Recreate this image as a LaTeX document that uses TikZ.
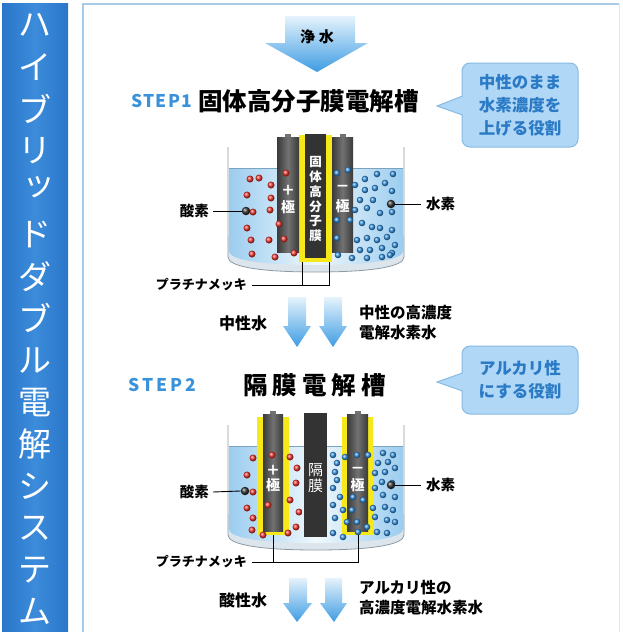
\documentclass[tikz,border=0pt]{standalone}
\usepackage{fontspec}
\newfontfamily\jp{Noto Sans CJK JP}
\usetikzlibrary{calc}

\definecolor{bandblue}{HTML}{2A76C9}
\definecolor{bandlight}{HTML}{3C8CDB}
\definecolor{frame}{HTML}{A8CCE8}
\definecolor{frameright}{HTML}{DDE7EE}
\definecolor{stepblue}{HTML}{3A93DA}
\definecolor{bubblefill}{HTML}{B0D7F5}
\definecolor{bubbleline}{HTML}{86BAE2}
\definecolor{bubbletext}{HTML}{2A7AC6}
\definecolor{flow}{HTML}{3E9CE3}
\definecolor{flowtop}{HTML}{E6F3FC}
\definecolor{water}{HTML}{9BCDEF}
\definecolor{glass}{HTML}{DCE5EC}
\definecolor{glassline}{HTML}{8E9AA3}
\definecolor{plate}{HTML}{F7E81A}
\definecolor{rod}{HTML}{3A3A3A}
\definecolor{rodlight}{HTML}{727272}
\definecolor{film}{HTML}{333333}
\definecolor{oxy}{HTML}{F0342C}
\definecolor{hyd}{HTML}{3290E0}

\tikzset{
  txt/.style={inner sep=0pt, text=black, font=\jp\bfseries\fontsize{#1}{#1}\selectfont},
  bandch/.style={inner sep=0pt, text=white, font=\jp\fontsize{33}{33}\selectfont},
  bubble/.style={draw=bubbleline, fill=bubblefill, line width=1pt, rounded corners=8pt,
    inner sep=0pt, align=center, text=bubbletext,
    font=\jp\bfseries\fontsize{16.5}{23}\selectfont},
  rodtext/.style={inner sep=0pt, text=white, font=\jp\bfseries\fontsize{#1}{#1}\selectfont},
  leader/.style={draw=black, line width=0.9pt},
  marker/.style={circle, inner sep=0pt, minimum size=8.5pt, ball color=black!80},
  flowarrow/.style={top color=flowtop, bottom color=flow},
}

% electrode rod with its terminal nub
\newcommand\rodbody[4]{% x1, y1, x2, y2
  \shade[left color=rod, right color=rod, middle color=rodlight] (#1,#2) rectangle (#3,#4);
  \fill[rodlight] ({(#1+#3)/2-3},#2) rectangle ({(#1+#3)/2+3},{#2-3});
}

% glass tank with water (drawn at the origin of the current scope)
\newcommand\tankbody{%
  \fill[glass] (228,236) -- (228,257) .. controls (228,267) and (262,272) .. (316,272)
     .. controls (370,272) and (404,267) .. (404,257) -- (404,236) -- cycle;
  \shade[left color=water, right color=water, middle color=water!15]
     (229,168) -- (229,251) .. controls (229,260) and (262,265) .. (316,265)
     .. controls (370,265) and (403,260) .. (403,251) -- (403,168) -- cycle;
  \draw[water!80!black, line width=0.4pt] (229,168) -- (403,168);
  \draw[glassline, line width=0.8pt] (228,147) -- (228,257) .. controls (228,267) and (262,272) .. (316,272)
     .. controls (370,272) and (404,267) .. (404,257) -- (404,147);
}

\begin{document}
\begin{tikzpicture}[x=1pt, y=-1pt]
\useasboundingbox (0,0) rectangle (622,632);
\fill[white] (0,0) rectangle (622,632);

% title band
\shade[left color=bandblue, right color=bandblue, middle color=bandlight] (2,3) rectangle (68,632);
\foreach \c/\dx/\dy [count=\i from 0] in {ハ/0/0,イ/0/0,ブ/0/0,リ/0/0,ッ/4/-5,ド/0/0,ダ/0/0,ブ/0/0,ル/0/0,電/0/0,解/0/0,シ/0/0,ス/0/0,テ/0/0,ム/0/0}
  \node[bandch] (band\i) at ({35+\dx},{25+41.9*\i+\dy}) {\c};

% panel frame
\draw[frameright, line width=1pt] (619,4) -- (619,632);
\draw[frame, line width=1.6pt] (83,632) -- (83,4) -- (619,4);

% purified water inflow
\shade[flowarrow] (285,16) -- (355,16) -- (355,43) -- (368,43) -- (317,72) -- (265,43) -- (285,43) -- cycle;
\node[txt=15] (inflow) at (317,37) {浄\hspace{4pt}水};

% ---------- STEP 1 ----------
\node[inner sep=0pt, text=stepblue, font=\jp\bfseries\fontsize{17.5}{17.5}\selectfont, anchor=west] (step1) at (131,101) {S\hspace{1.2pt}T\hspace{1.2pt}E\hspace{1.2pt}P\hspace{1.2pt}1};
\node[txt=24.5, anchor=west] (title1) at (198,101) {固体高分子膜電解槽};

\node[bubble, minimum width=116pt, minimum height=84pt] (role1) at (520,105) {中性のまま\\水素濃度を\\上げる役割};
\fill[bubblefill] (463.5,96) -- (437,106) -- (463.5,115) -- cycle;
\draw[bubbleline, line width=1pt] (462.5,96) -- (437,106) -- (462.5,115);

\begin{scope}
  \tankbody
  % platinum plated membrane between the electrodes
  \fill[plate] (299,135) rectangle (332,262);
  \fill[film] (305,134) rectangle (326,258);
  \rodbody{277}{137}{299}{252}
  \rodbody{332}{137}{353}{252}
  \node[rodtext=14] (p1a) at (288,190) {＋};
  \node[rodtext=14] (p1b) at (288,207) {極};
  \node[rodtext=14] (n1a) at (342.5,188) {－};
  \node[rodtext=14] (n1b) at (342.5,206) {極};
  \foreach \ch [count=\k from 0] in {固,体,高,分,子,膜}
    \node[rodtext=12.5] (m1\k) at (315.5,{162+14.8*\k}) {\ch};
  % oxygen bubbles
  \foreach \p in {(250,179),(259,178),(271,185),(286,173),(247,195),(271,198),(253,212),(270,210),
                  (247,228),(279,224),(251,240),(269,240),(284,239),(252,254),(275,257),(294,253)}
    \shade[ball color=oxy] \p circle (3.5pt);
  % hydrogen bubbles
  \foreach \p in {(337,173),(348,170),(355,185),(365,179),(377,174),(393,174),(365,190),(375,188),
                  (385,183),(392,191),(360,200),(373,200),(355,210),(367,208),(380,213),(392,212),
                  (350,220),(362,223),(372,227),(380,228),(392,230),(337,220),(337,238),(357,240),
                  (367,238),(377,240),(387,237),(395,245),(360,250),(370,250),(382,248),(392,253),
                  (338,255),(352,258),(367,258),(382,257),(390,255)}
    \shade[ball color=hyd] \p circle (3.3pt);
\end{scope}

\node[marker] (o1) at (246,211) {};
\node[marker] (h1) at (391,204) {};
\node[txt=14.5, anchor=east] (ox1) at (209,211) {酸素};
\node[txt=14.5, anchor=west] (hy1) at (426,204) {水素};
\draw[leader] (ox1.east) ++(4pt,0) -- (o1.west);
\draw[leader] (h1.east) -- ($(hy1.west)+(-5pt,0)$);

\coordinate (pa1) at (302,262);
\coordinate (pb1) at (329,262);
\node[txt=13, anchor=east] (pt1) at (247,285) {プラチナメッキ};
\draw[leader] ($(pt1.east)+(5pt,0)$) -- (pb1 |- pt1.east) -- (pb1);
\draw[leader] (pa1) -- (pa1 |- pt1.east);

% outflow of step 1
\shade[flowarrow] (288,297) -- (306,297) -- (306,326) -- (311,326) -- (297,347) -- (283,326) -- (288,326) -- cycle;
\shade[flowarrow] (324,297) -- (342,297) -- (342,326) -- (347,326) -- (333,347) -- (319,326) -- (324,326) -- cycle;
\node[txt=16] (out1a) at (243,323) {中性水};
\node[txt=15.5, anchor=west] (out1b) at (359,313) {中性の高濃度};
\node[txt=15.5, anchor=west] (out1c) at (359,333) {電解水素水};

% ---------- STEP 2 ----------
\node[inner sep=0pt, text=stepblue, font=\jp\bfseries\fontsize{17.5}{17.5}\selectfont, anchor=west] (step2) at (128,385) {S\hspace{3pt}T\hspace{3pt}E\hspace{3pt}P\hspace{3pt}2};
\node[txt=24.5, anchor=west] (title2) at (243,385) {隔\hspace{5pt}膜\hspace{5pt}電\hspace{5pt}解\hspace{5pt}槽};

\node[bubble, minimum width=116pt, minimum height=68pt] (role2) at (520,380) {アルカリ性\\にする役割};
\fill[bubblefill] (463.5,373) -- (437,382) -- (463.5,391) -- cycle;
\draw[bubbleline, line width=1pt] (462.5,373) -- (437,382) -- (462.5,391);

\begin{scope}[shift={(0,278)}]
  \tankbody
\end{scope}
% separator membrane and plated electrodes
\fill[film] (304,413) rectangle (327,537);
\fill[plate] (257,417) rectangle (289,535);
\fill[plate] (342,417) rectangle (373,535);
\rodbody{263}{414}{283}{531}
\rodbody{347}{414}{368}{531}
\node[rodtext=14] (p2a) at (273,470) {＋};
\node[rodtext=14] (p2b) at (273,485) {極};
\node[rodtext=14] (n2a) at (357.5,470) {－};
\node[rodtext=14] (n2b) at (357.5,485) {極};
\node[rodtext=15, font=\jp\fontsize{15}{15}\selectfont] (m2a) at (315.5,470) {隔};
\node[rodtext=15, font=\jp\fontsize{15}{15}\selectfont] (m2b) at (315.5,486) {膜};
\foreach \p in {(253,458),(272,455),(290,457),(247,475),(297,468),(253,492),(296,483),(247,508),
                (290,500),(268,505),(299,512),(253,518),(296,527),(252,530),(263,535),(288,533)}
  \shade[ball color=oxy] \p circle (3.5pt);
\foreach \p in {(333,455),(345,457),(357,455),(368,455),(383,453),(393,455),(337,463),(335,472),
                (378,463),(388,462),(395,468),(375,473),(385,472),(337,480),(333,488),(375,488),
                (382,482),(392,483),(340,497),(353,497),(363,500),(383,495),(395,497),(333,505),
                (343,510),(352,510),(373,508),(385,507),(393,510),(335,518),(347,522),(357,522),
                (367,527),(375,517),(387,520),(395,522),(333,533),(343,537),(358,532),(377,532),(387,533)}
  \shade[ball color=hyd] \p circle (3.3pt);

\node[marker] (o2) at (245,491) {};
\node[marker] (h2) at (391,485) {};
\node[txt=14.5, anchor=east] (ox2) at (209,492) {酸素};
\node[txt=14.5, anchor=west] (hy2) at (426,485) {水素};
\draw[leader] (ox2.east) ++(4pt,0) -- (o2.west);
\draw[leader] (h2.east) -- ($(hy2.west)+(-5pt,0)$);

\coordinate (pa2) at (273,535);
\coordinate (pb2) at (358,535);
\node[txt=13, anchor=east] (pt2) at (247,562) {プラチナメッキ};
\draw[leader] ($(pt2.east)+(5pt,0)$) -- (pb2 |- pt2.east) -- (pb2);
\draw[leader] (pa2) -- (pa2 |- pt2.east);

% outflow of step 2
\shade[flowarrow] (289,578) -- (307,578) -- (307,603) -- (312,603) -- (297,622) -- (283,603) -- (289,603) -- cycle;
\shade[flowarrow] (325,578) -- (342,578) -- (342,603) -- (347,603) -- (334,622) -- (320,603) -- (325,603) -- cycle;
\node[txt=16] (out2a) at (243,600) {酸性水};
\node[txt=15.5, anchor=west] (out2b) at (359,588) {アルカリ性の};
\node[txt=15.5, anchor=west] (out2c) at (359,608) {高濃度電解水素水};
\end{tikzpicture}
\end{document}
